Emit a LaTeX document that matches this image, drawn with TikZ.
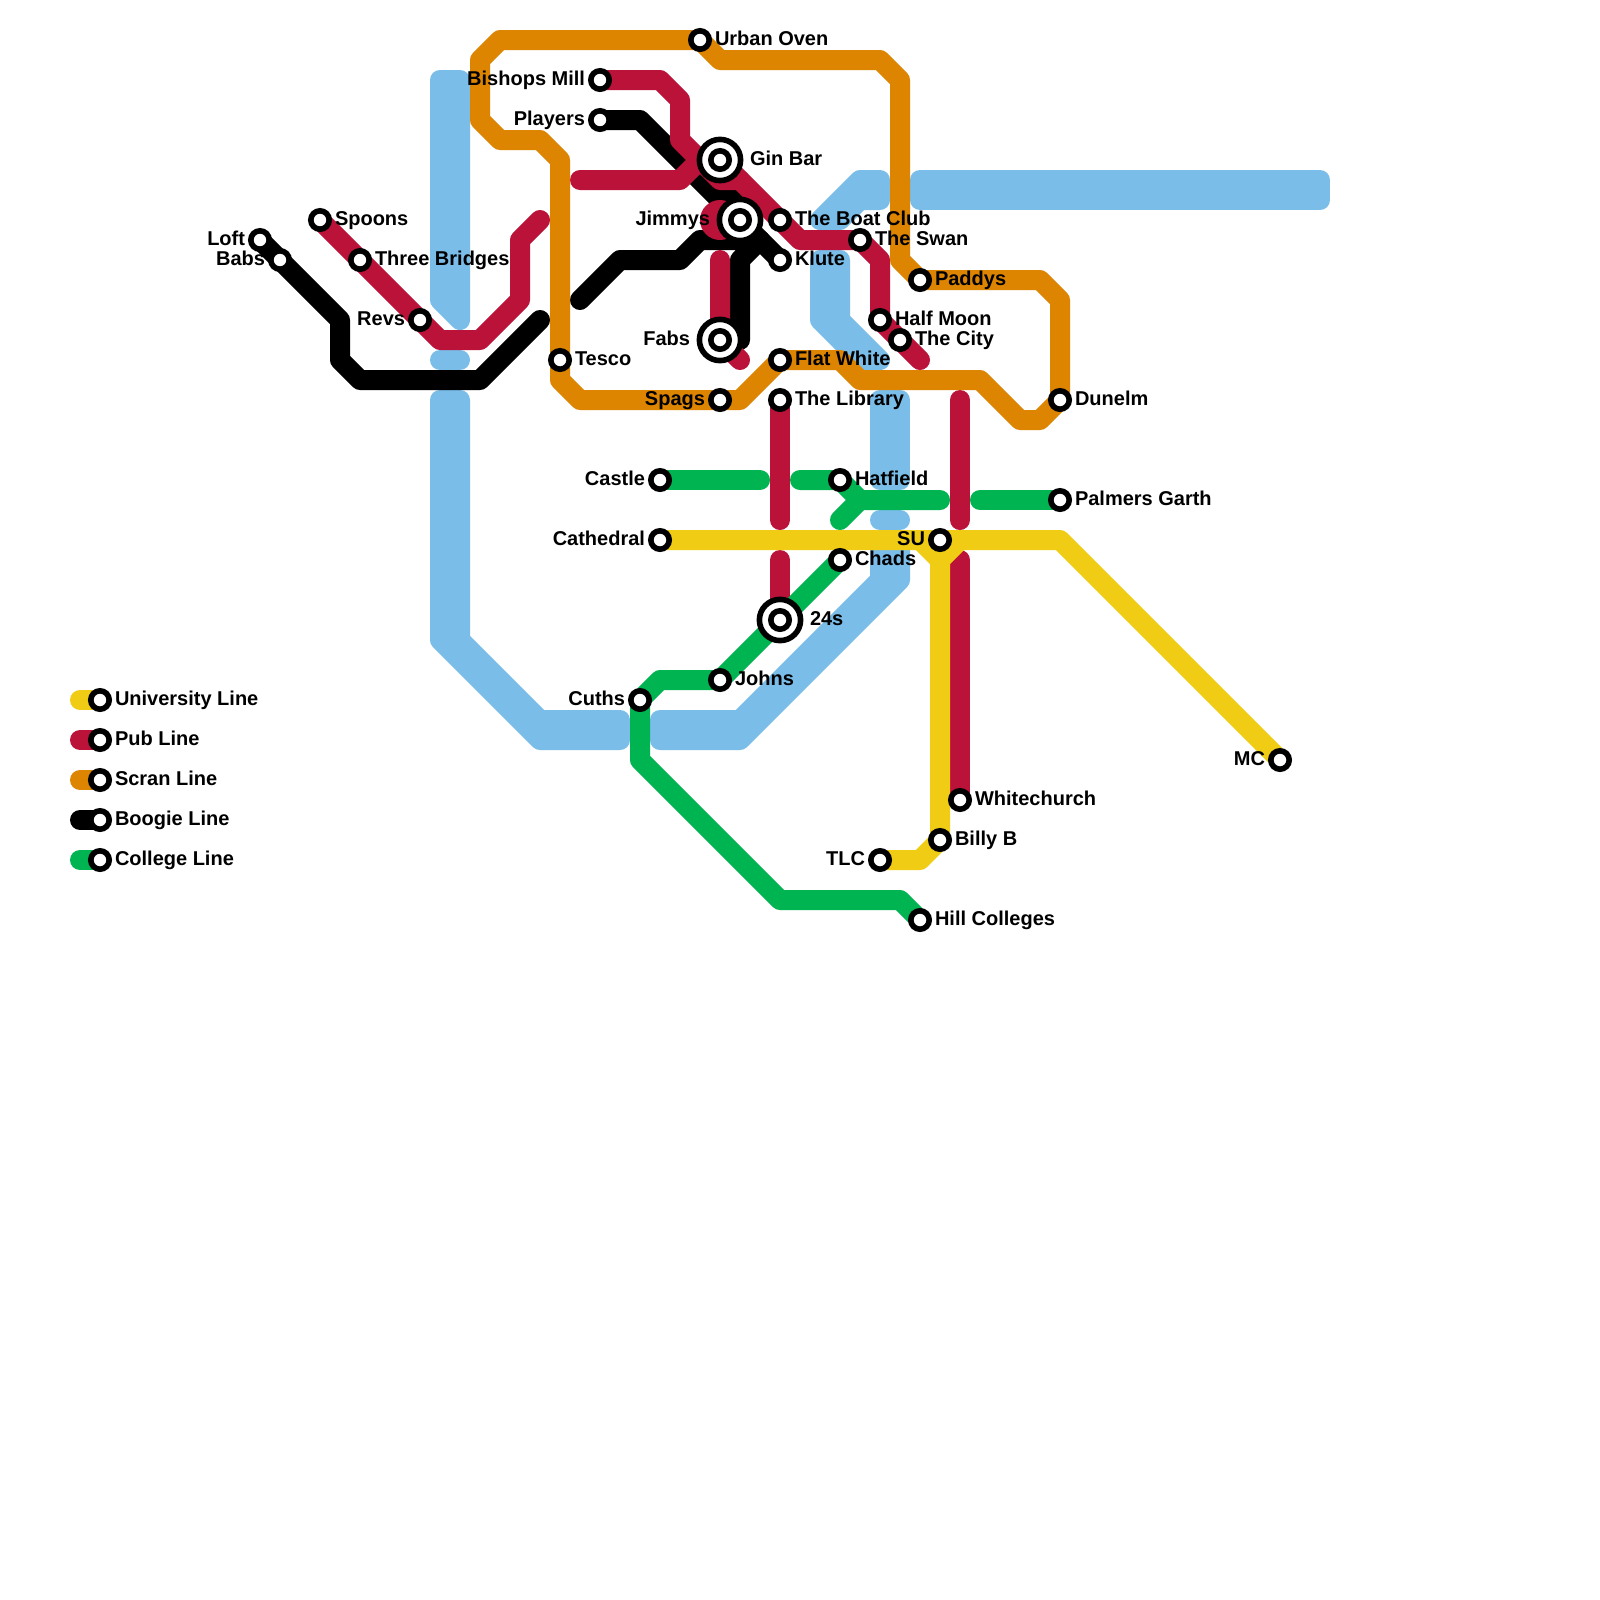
\documentclass[tikz,border=0pt]{standalone}
\usepackage{fontspec}
\setmainfont{Liberation Sans}
\definecolor{cRiver}{HTML}{7ABDE9}
\definecolor{cPub}{HTML}{BB1239}
\definecolor{cScran}{HTML}{DD8500}
\definecolor{cUni}{HTML}{F0CD14}
\definecolor{cCollege}{HTML}{00B451}
\tikzset{
  rail/.style={line width=1cm,line cap=round,line join=round},
  river/.style={fill=cRiver,draw=cRiver,line width=1cm,line join=round,line cap=round},
  stop/.style={circle,draw=black,fill=white,line width=0.28cm,minimum size=0.92cm,inner sep=0pt,outer sep=0pt},
  hub/.style={circle,draw=black,fill=white,line width=0.28cm,minimum size=2.06cm,inner sep=0pt,outer sep=0pt},
  txt/.style={font=\fontsize{28.45}{30}\selectfont\bfseries,text=black,inner sep=0pt,outer sep=0pt}
}
% \rlab{name}{text}: label right of a stop, \llab: left of it, offsets in grid units
\newcommand{\rlab}[3][0.75]{\node[txt,anchor=base west] (t-#2) at ([xshift=#1 cm,yshift=-0.25cm]#2.center) {#3};}
\newcommand{\llab}[3][0.75]{\node[txt,anchor=base east] (t-#2) at ([xshift=-#1 cm,yshift=-0.25cm]#2.center) {#3};}
\begin{document}
\begin{tikzpicture}[x=1cm,y=-1cm]
\useasboundingbox (0,0) rectangle (80,80);
\fill[white] (0,0) rectangle (80,80);
% stop positions
\coordinate (cUrban) at (35,2);
\coordinate (cBishops) at (30,4);
\coordinate (cPlayers) at (30,6);
\coordinate (cGin) at (36,8);
\coordinate (cJimmys) at (37,11);
\coordinate (cBoat) at (39,11);
\coordinate (cKlute) at (39,13);
\coordinate (cSwan) at (43,12);
\coordinate (cPaddys) at (46,14);
\coordinate (cHalf) at (44,16);
\coordinate (cCity) at (45,17);
\coordinate (cFlat) at (39,18);
\coordinate (cSpags) at (36,20);
\coordinate (cLibrary) at (39,20);
\coordinate (cTesco) at (28,18);
\coordinate (cFabs) at (36,17);
\coordinate (cDunelm) at (53,20);
\coordinate (cSpoons) at (16,11);
\coordinate (cThree) at (18,13);
\coordinate (cRevs) at (21,16);
\coordinate (cLoft) at (13,12);
\coordinate (cBabs) at (14,13);
\coordinate (cCastle) at (33,24);
\coordinate (cHatfield) at (42,24);
\coordinate (cPalmers) at (53,25);
\coordinate (cCathedral) at (33,27);
\coordinate (cSU) at (47,27);
\coordinate (cChads) at (42,28);
\coordinate (cTwentyfour) at (39,31);
\coordinate (cJohns) at (36,34);
\coordinate (cCuths) at (32,35);
\coordinate (cMC) at (64,38);
\coordinate (cWhite) at (48,40);
\coordinate (cBilly) at (47,42);
\coordinate (cTLC) at (44,43);
\coordinate (cHill) at (46,46);
% river
\filldraw[river] (22,4)--(23,4)--(23,16)--(22,15)--cycle;
\draw[river] (22,18)--(23,18);
\filldraw[river] (22,20)--(23,20)--(23,32)--(27,36)--(31,36)--(31,37)--(27,37)--(22,32)--cycle;
\filldraw[river] (33,36)--(37,36)--(44,29)--(44,27)--(45,27)--(45,29)--(37,37)--(33,37)--cycle;
\draw[river] (44,26)--(45,26);
\filldraw[river] (44,20)--(45,20)--(45,24)--(44,24)--cycle;
\filldraw[river] (46,9)--(66,9)--(66,10)--(46,10)--cycle;
\filldraw[river] (43,9)--(44,9)--(44,10)--(43,10)--(42,11)--(41,11)--cycle;
\filldraw[river] (41,13)--(42,13)--(42,16)--(44,18)--(43,18)--(41,16)--cycle;
% boogie line
\draw[rail,black] (cLoft)--(cBabs)--(17,16)--(17,18)--(18,19)--(24,19)--(27,16);
\draw[rail,black] (cPlayers)--(32,6)--(36,10)--(37,10)--(cJimmys)--(cKlute);
\draw[rail,black] (29,15)--(31,13)--(34,13)--(35,12)--(38,12)--(37,13)--(37,17)--(cFabs);
% pub line
\fill[cPub] (36,11) circle (1);
\draw[rail,cPub] (cBishops)--(33,4)--(34,5)--(34,7)--(36,9)--(37,9)--(40,12)--(cSwan)--(44,13)--(cHalf)--(cCity)--(46,18);
\draw[rail,cPub] (29,9)--(34,9)--(35,8)--(cGin)--(37,9);
\draw[rail,cPub] (36,13)--(cFabs)--(37,18);
\draw[rail,cPub] (cSpoons)--(cThree)--(cRevs)--(22,17)--(24,17)--(26,15)--(26,12)--(27,11);
\draw[rail,cPub] (cLibrary)--(39,26);
\draw[rail,cPub] (39,28)--(cTwentyfour);
\draw[rail,cPub] (48,20)--(48,26);
\draw[rail,cPub] (48,28)--(cWhite);
% university line
\draw[rail,cUni] (cCathedral)--(53,27)--(cMC);
\draw[rail,cUni] (cTLC)--(46,43)--(cBilly)--(47,28)--(46,27);
\draw[rail,cUni] (47,28)--(48,27);
% scran line
\draw[rail,cScran] (cUrban)--(25,2)--(24,3)--(24,6)--(25,7)--(27,7)--(28,8)--(cTesco)--(28,19)--(29,20)--(37,20)--(cFlat)--(42,18)--(43,19)--(49,19)--(51,21)--(52,21)--(cDunelm)--(53,15)--(52,14)--(cPaddys)--(45,13)--(45,4)--(44,3)--(36,3)--(cUrban);
% college line
\draw[rail,cCollege] (cCastle)--(38,24);
\draw[rail,cCollege] (40,24)--(cHatfield)--(43,25)--(47,25);
\draw[rail,cCollege] (42,26)--(43,25);
\draw[rail,cCollege] (49,25)--(cPalmers);
\draw[rail,cCollege] (cChads)--(cJohns)--(33,34)--(cCuths)--(32,38)--(39,45)--(45,45)--(cHill);
% key swatches
\coordinate (kU0) at (4,35); \coordinate (kU1) at (5,35);
\coordinate (kP0) at (4,37); \coordinate (kP1) at (5,37);
\coordinate (kS0) at (4,39); \coordinate (kS1) at (5,39);
\coordinate (kB0) at (4,41); \coordinate (kB1) at (5,41);
\coordinate (kC0) at (4,43); \coordinate (kC1) at (5,43);
\draw[rail,cUni] (kU0)--(kU1);
\draw[rail,cPub] (kP0)--(kP1);
\draw[rail,cScran] (kS0)--(kS1);
\draw[rail,black] (kB0)--(kB1);
\draw[rail,cCollege] (kC0)--(kC1);
% stops
\foreach \n/\c in {sUrban/cUrban,sBishops/cBishops,sPlayers/cPlayers,sBoat/cBoat,sKlute/cKlute,sSwan/cSwan,sPaddys/cPaddys,sHalf/cHalf,sCity/cCity,sFlat/cFlat,sSpags/cSpags,sLibrary/cLibrary,sTesco/cTesco,sDunelm/cDunelm,sSpoons/cSpoons,sThree/cThree,sRevs/cRevs,sLoft/cLoft,sBabs/cBabs,sCastle/cCastle,sHatfield/cHatfield,sPalmers/cPalmers,sCathedral/cCathedral,sSU/cSU,sChads/cChads,sJohns/cJohns,sCuths/cCuths,sMC/cMC,sWhite/cWhite,sBilly/cBilly,sTLC/cTLC,sHill/cHill,sKU/kU1,sKP/kP1,sKS/kS1,sKB/kB1,sKC/kC1}
  {\node[stop] (\n) at (\c) {};}
\foreach \n/\c in {sGin/cGin,sJimmys/cJimmys,sFabs/cFabs,sTwentyfour/cTwentyfour}
  {\node[hub] (\n o) at (\c) {}; \node[stop] (\n) at (\c) {};}
% labels
\rlab{sUrban}{Urban Oven}
\llab{sBishops}{Bishops Mill}
\llab{sPlayers}{Players}
\rlab[1.5]{sGin}{Gin Bar}
\llab[1.5]{sJimmys}{Jimmys}
\rlab{sBoat}{The Boat Club}
\rlab{sKlute}{Klute}
\rlab{sSwan}{The Swan}
\rlab{sPaddys}{Paddys}
\rlab{sHalf}{Half Moon}
\rlab{sCity}{The City}
\rlab{sFlat}{Flat White}
\llab{sSpags}{Spags}
\rlab{sLibrary}{The Library}
\rlab{sTesco}{Tesco}
\llab[1.5]{sFabs}{Fabs}
\rlab{sDunelm}{Dunelm}
\rlab{sSpoons}{Spoons}
\rlab{sThree}{Three Bridges}
\llab{sRevs}{Revs}
\llab{sLoft}{Loft}
\llab{sBabs}{Babs}
\llab{sCastle}{Castle}
\rlab{sHatfield}{Hatfield}
\rlab{sPalmers}{Palmers Garth}
\llab{sCathedral}{Cathedral}
\llab{sSU}{SU}
\rlab{sChads}{Chads}
\rlab[1.5]{sTwentyfour}{24s}
\rlab{sJohns}{Johns}
\llab{sCuths}{Cuths}
\llab{sMC}{MC}
\rlab{sWhite}{Whitechurch}
\rlab{sBilly}{Billy B}
\llab{sTLC}{TLC}
\rlab{sHill}{Hill Colleges}
\rlab{sKU}{University Line}
\rlab{sKP}{Pub Line}
\rlab{sKS}{Scran Line}
\rlab{sKB}{Boogie Line}
\rlab{sKC}{College Line}
\end{tikzpicture}
\end{document}
